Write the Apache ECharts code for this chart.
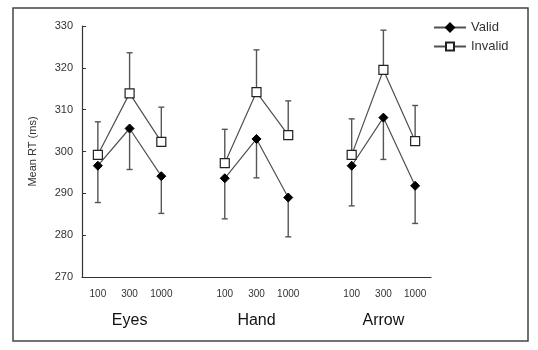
<!DOCTYPE html>
<html>
<head>
<meta charset="utf-8">
<script src="https://cdn.jsdelivr.net/npm/echarts@6/dist/echarts.min.js"></script>
<style>
  html, body { margin: 0; padding: 0; background: #fff; }
  #chart { width: 538px; height: 350px; }
</style>
</head>
<body>
<div id="chart"></div>
<script>
// Cue conditions and SOA levels (ms)
const conditions = ['Eyes', 'Hand', 'Arrow'];
const soaLabels = ['100', '300', '1000'];

// Mean RT (ms), ordered Eyes 100/300/1000, Hand 100/300/1000, Arrow 100/300/1000
const validMean   = [296.6, 305.5, 294.1, 293.6, 303.0, 289.0, 296.6, 308.1, 291.8];
const validSE     = [8.8, 9.8, 8.9, 9.7, 9.3, 9.4, 9.6, 10.0, 9.0];
const invalidMean = [299.2, 313.9, 302.3, 297.2, 314.2, 303.9, 299.2, 319.5, 302.5];
const invalidSE   = [7.9, 9.7, 8.3, 8.1, 10.1, 8.2, 8.6, 9.5, 8.5];

// Y axis range
const yMin = 270, yMax = 330, yStep = 10;

// Build the category axis: three SOA bands per condition with an empty spacer band between groups
const categories = [];
const groupLabels = [];
const slotIndex = []; // category index of each data point
conditions.forEach((c, g) => {
  if (g > 0) { categories.push(''); groupLabels.push(''); }
  soaLabels.forEach((s, k) => {
    slotIndex.push(categories.length);
    categories.push(s);
    groupLabels.push(k === 1 ? c : '');
  });
});

function toLine(values) {
  const out = categories.map(() => null);
  values.forEach((v, i) => { out[slotIndex[i]] = v; });
  return out;
}
function toBars(values, errs, dir) {
  return values.map((v, i) => [slotIndex[i], v, v + dir * errs[i]]);
}

const lineColor = '#505050';
const barColor = '#555';

function errorBar(params, api) {
  const x = api.value(0);
  const p0 = api.coord([x, api.value(1)]);
  const p1 = api.coord([x, api.value(2)]);
  const cap = 3;
  const style = { stroke: barColor, lineWidth: 1.4, fill: null };
  return {
    type: 'group',
    children: [
      { type: 'line', shape: { x1: p0[0], y1: p0[1], x2: p1[0], y2: p1[1] }, style: style },
      { type: 'line', shape: { x1: p1[0] - cap, y1: p1[1], x2: p1[0] + cap, y2: p1[1] }, style: style }
    ]
  };
}

const chart = echarts.init(document.getElementById('chart'), null, { renderer: 'canvas' });
const font = 'Liberation Sans, Arial, sans-serif';

chart.setOption({
  animation: false,
  backgroundColor: '#fff',
  textStyle: { fontFamily: font },
  graphic: [{
    type: 'rect',
    shape: { x: 13, y: 8, width: 515, height: 333 },
    style: { fill: null, stroke: '#444', lineWidth: 1.5 },
    silent: true,
    z: -10
  }],
  legend: {
    orient: 'vertical',
    left: 428,
    top: 16,
    itemWidth: 32,
    itemHeight: 10,
    itemGap: 6,
    textStyle: { fontSize: 13, color: '#333', fontFamily: font },
    data: ['Valid', 'Invalid']
  },
  grid: { left: 82, right: 107, top: 26, bottom: 73, containLabel: false },
  xAxis: [{
    type: 'category',
    data: categories,
    boundaryGap: true,
    position: 'bottom',
    axisLine: { lineStyle: { color: '#333', width: 1.2 } },
    axisTick: { inside: true, length: 4, alignWithLabel: false, lineStyle: { color: '#333' } },
    axisLabel: { fontSize: 10, color: '#333', margin: 12, interval: 0 }
  }, {
    type: 'category',
    data: groupLabels,
    position: 'bottom',
    gridIndex: 0,
    axisLine: { show: false },
    axisTick: { show: false },
    axisLabel: { fontSize: 16, color: '#111', margin: 36, interval: 0 }
  }],
  yAxis: {
    type: 'value',
    min: yMin,
    max: yMax,
    interval: yStep,
    name: 'Mean RT (ms)',
    nameLocation: 'middle',
    nameGap: 44,
    nameTextStyle: { fontSize: 11, color: '#333' },
    axisLine: { show: true, lineStyle: { color: '#333', width: 1.2 } },
    axisTick: { show: true, inside: true, length: 4, lineStyle: { color: '#333' } },
    axisLabel: { fontSize: 11, color: '#333', margin: 9 },
    splitLine: { show: false }
  },
  series: [
    {
      name: 'ValidErr',
      type: 'custom',
      renderItem: errorBar,
      data: toBars(validMean, validSE, -1),
      encode: { x: 0, y: [1, 2] },
      z: 1,
      silent: true
    },
    {
      name: 'InvalidErr',
      type: 'custom',
      renderItem: errorBar,
      data: toBars(invalidMean, invalidSE, 1),
      encode: { x: 0, y: [1, 2] },
      z: 1,
      silent: true
    },
    {
      name: 'Valid',
      type: 'line',
      data: toLine(validMean),
      connectNulls: false,
      symbol: 'diamond',
      symbolSize: 9,
      showAllSymbol: true,
      lineStyle: { color: lineColor, width: 1.2 },
      itemStyle: { color: '#000', borderColor: '#000', borderWidth: 1 },
      z: 3
    },
    {
      name: 'Invalid',
      type: 'line',
      data: toLine(invalidMean),
      connectNulls: false,
      symbol: 'rect',
      symbolSize: 9,
      showAllSymbol: true,
      lineStyle: { color: lineColor, width: 1.2 },
      itemStyle: { color: '#fff', borderColor: '#222', borderWidth: 1.2 },
      z: 4
    }
  ]
});
</script>
</body>
</html>
